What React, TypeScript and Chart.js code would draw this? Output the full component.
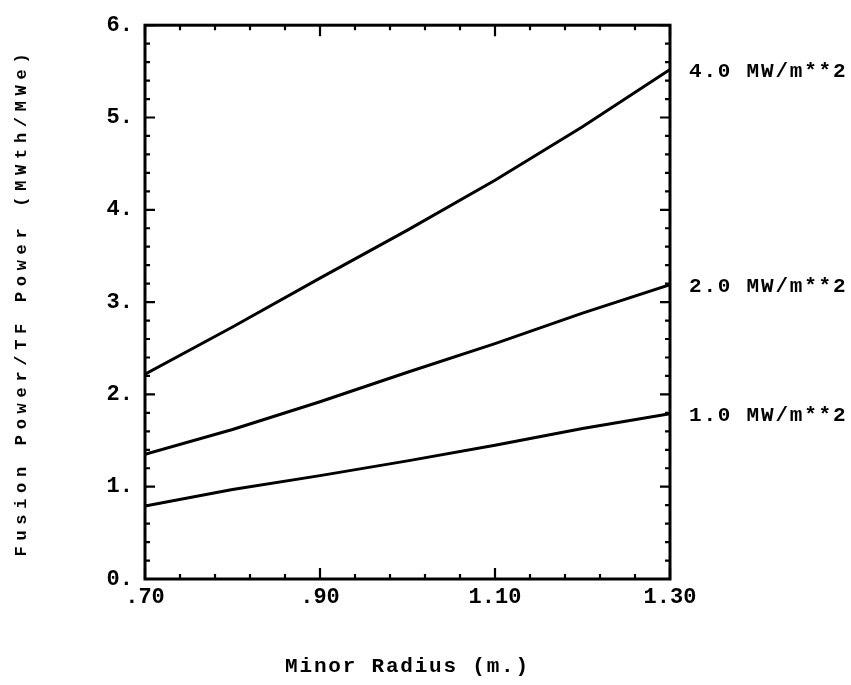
import React, { useEffect, useRef } from "react";
import { Chart, registerables } from "chart.js";

Chart.register(...registerables);

const RADIUS = [0.7, 0.8, 0.9, 1.0, 1.1, 1.2, 1.3];
const WALL_4 = [2.22, 2.73, 3.26, 3.78, 4.32, 4.9, 5.52];
const WALL_2 = [1.35, 1.62, 1.92, 2.24, 2.55, 2.88, 3.19];
const WALL_1 = [0.79, 0.97, 1.12, 1.28, 1.45, 1.63, 1.79];
const SERIES_LABELS = ["4.0 MW/m**2", "2.0 MW/m**2", "1.0 MW/m**2"];
const X_TICKS = [0.7, 0.9, 1.1, 1.3];
const Y_TICKS = [0, 1, 2, 3, 4, 5, 6];
const X_TITLE = "Minor Radius (m.)";
const Y_TITLE = "Fusion Power/TF Power (MWth/MWe)";

const FONT = "'Liberation Mono', 'DejaVu Sans Mono', monospace";

const framePlugin = {
  id: "framePlugin",
  afterDatasetsDraw(chart: any) {
    const { ctx, chartArea: a, scales } = chart;
    const x = scales.x;
    const y = scales.y;
    ctx.save();
    ctx.strokeStyle = "#000";
    ctx.lineWidth = 3;
    ctx.strokeRect(a.left, a.top, a.right - a.left, a.bottom - a.top);
    ctx.lineWidth = 2.2;
    ctx.beginPath();
    for (let i = 0; i <= 15; i++) {
      const v = 0.7 + i * 0.04;
      const px = x.getPixelForValue(v);
      const len = i % 5 === 0 ? 11 : 5;
      ctx.moveTo(px, a.bottom);
      ctx.lineTo(px, a.bottom - len);
      ctx.moveTo(px, a.top);
      ctx.lineTo(px, a.top + len);
    }
    for (let i = 0; i <= 30; i++) {
      const v = i * 0.2;
      const py = y.getPixelForValue(v);
      const len = i % 5 === 0 ? 10 : 5;
      ctx.moveTo(a.left, py);
      ctx.lineTo(a.left + len, py);
      ctx.moveTo(a.right, py);
      ctx.lineTo(a.right - len, py);
    }
    ctx.stroke();

    // series labels at right
    ctx.fillStyle = "#000";
    ctx.font = `bold 21px ${FONT}`;
    (ctx as any).letterSpacing = "1.8px";
    ctx.textAlign = "left";
    ctx.textBaseline = "middle";
    chart.data.datasets.forEach((ds: any, i: number) => {
      const last = ds.data[ds.data.length - 1];
      ctx.fillText(SERIES_LABELS[i], a.right + 19, y.getPixelForValue(last.y) + 2);
    });

    // axis titles
    ctx.textAlign = "center";
    ctx.font = `bold 21px ${FONT}`;
    (ctx as any).letterSpacing = "1.8px";
    ctx.fillText(X_TITLE, (a.left + a.right) / 2, 667);

    ctx.translate(22, (a.top + a.bottom) / 2);
    ctx.rotate(-Math.PI / 2);
    ctx.font = `bold 17px ${FONT}`;
    (ctx as any).letterSpacing = "5.7px";
    ctx.fillText(Y_TITLE, 0, 0);
    ctx.restore();
  },
};

export default function App() {
  const ref = useRef<HTMLCanvasElement>(null);
  useEffect(() => {
    if (!ref.current) return;
    const mk = (vals: number[]) => RADIUS.map((r, i) => ({ x: r, y: vals[i] }));
    const lineStyle = {
      borderColor: "#000",
      borderWidth: 3,
      pointRadius: 0,
      fill: false,
      tension: 0,
    };
    const chart = new Chart(ref.current, {
      type: "line",
      data: {
        datasets: [
          { label: SERIES_LABELS[0], data: mk(WALL_4), ...lineStyle },
          { label: SERIES_LABELS[1], data: mk(WALL_2), ...lineStyle },
          { label: SERIES_LABELS[2], data: mk(WALL_1), ...lineStyle },
        ],
      },
      options: {
        animation: false,
        responsive: false,
        devicePixelRatio: 1,
        layout: { padding: { top: 15, right: 181, left: 0, bottom: 0 } },
        plugins: { legend: { display: false }, tooltip: { enabled: false } },
        scales: {
          x: {
            type: "linear",
            min: 0.7,
            max: 1.3,
            grid: { display: false, drawTicks: false },
            border: { display: false },
            afterFit: (s: any) => {
              s.height = 106;
            },
            afterBuildTicks: (s: any) => {
              s.ticks = X_TICKS.map((v) => ({ value: v }));
            },
            ticks: {
              autoSkip: false,
              maxRotation: 0,
              padding: 5,
              color: "#000",
              font: { family: FONT, size: 22, weight: "bold" },
              callback: (v: any) => Number(v).toFixed(2).replace(/^0/, ""),
            },
          },
          y: {
            type: "linear",
            min: 0,
            max: 6,
            grid: { display: false, drawTicks: false },
            border: { display: false },
            afterFit: (s: any) => {
              s.width = 145;
            },
            afterBuildTicks: (s: any) => {
              s.ticks = Y_TICKS.map((v) => ({ value: v }));
            },
            ticks: {
              autoSkip: false,
              padding: 12,
              color: "#000",
              font: { family: FONT, size: 22, weight: "bold" },
              callback: (v: any) => `${v}.`,
            },
          },
        },
      },
      plugins: [framePlugin],
    });
    return () => chart.destroy();
  }, []);
  return (
    <div style={{ position: "absolute", left: 0, top: 0, width: 851, height: 685, background: "#fff" }}>
      <canvas ref={ref} width={851} height={685} />
    </div>
  );
}
